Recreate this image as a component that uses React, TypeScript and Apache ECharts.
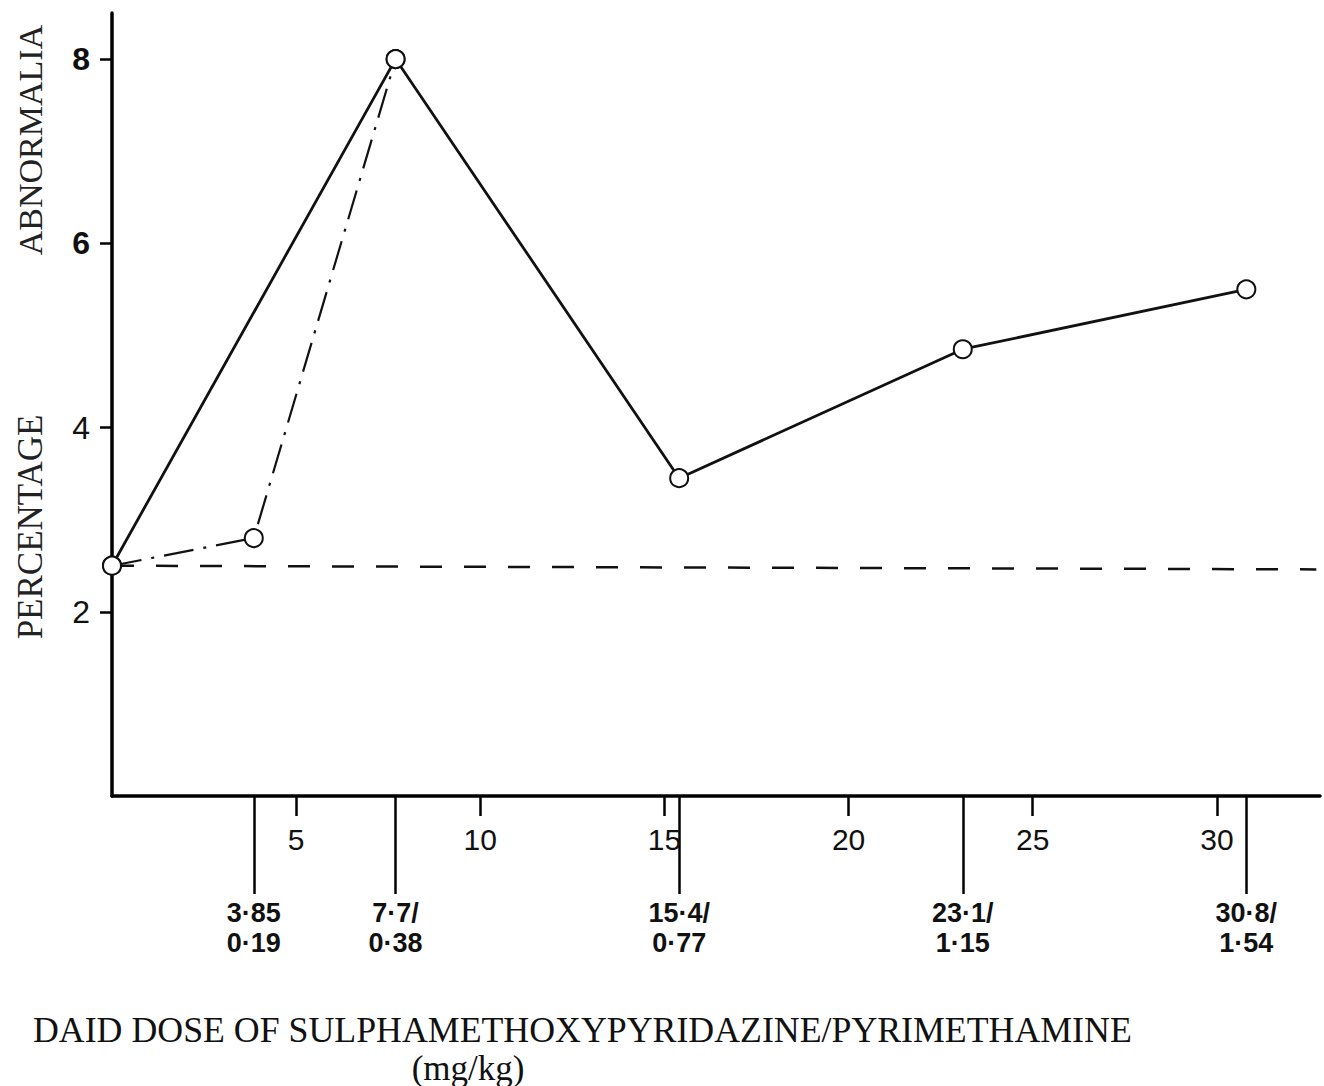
import React, { useEffect, useRef } from "react";
import * as echarts from "echarts";

// ---- data ----
const xTickValues = [5, 10, 15, 20, 25, 30];
const yTickValues = [2, 4, 6, 8];
const doseValues = [3.85, 7.7, 15.4, 23.1, 30.8];
const doseLabelsTop = ["3·85", "7·7/", "15·4/", "23·1/", "30·8/"];
const doseLabelsBottom = ["0·19", "0·38", "0·77", "1·15", "1·54"];

const solidX = [0, 7.7, 15.4, 23.1, 30.8];
const solidY = [2.5, 8.0, 3.45, 4.85, 5.5];

const dashDotX = [0, 3.85, 7.7];
const dashDotY = [2.5, 2.8, 8.0];

const controlX = [0, 32.7];
const controlY = [2.5, 2.46];

const yTitleLow = "PERCENTAGE";
const yTitleHigh = "ABNORMALIA";
const xTitle = "DAID DOSE OF SULPHAMETHOXYPYRIDAZINE/PYRIMETHAMINE";
const xUnit = "(mg/kg)";

const zip = (xs: number[], ys: number[]) => xs.map((x, i) => [x, ys[i]]);

export default function App() {
  const ref = useRef<HTMLDivElement>(null);
  useEffect(() => {
    document.body.style.margin = "0";
    if (!ref.current) return;
    const chart = echarts.init(ref.current, undefined, { renderer: "svg" });
    const X_MAX = 32.8;
    const Y_MAX = 8.5;
    const serif = "'Liberation Serif', 'Times New Roman', serif";
    const hand = "'Liberation Sans', 'DejaVu Sans', sans-serif";
    chart.setOption({
      animation: false,
      backgroundColor: "#ffffff",
      grid: { left: 112, right: 4, top: 13, bottom: 290 },
      xAxis: [
        {
          type: "value",
          min: 0,
          max: X_MAX,
          interval: 5,
          axisLine: { show: true, lineStyle: { color: "#000", width: 3.5 } },
          axisTick: {
            show: true,
            customValues: xTickValues,
            length: 20,
            lineStyle: { color: "#000", width: 2.5 },
          },
          axisLabel: {
            customValues: xTickValues,
            margin: 28,
            fontSize: 30,
            fontFamily: hand,
            color: "#111",
          },
          splitLine: { show: false },
        },
        {
          type: "value",
          min: 0,
          max: X_MAX,
          position: "bottom",
          offset: 0,
          axisLine: { show: false },
          axisTick: {
            show: true,
            customValues: doseValues,
            length: 98,
            lineStyle: { color: "#000", width: 2.5 },
          },
          axisLabel: {
            customValues: doseValues,
            margin: 102,
            fontSize: 27,
            lineHeight: 30,
            fontWeight: "bold",
            fontFamily: hand,
            color: "#111",
            formatter: (v: number) => {
              const i = doseValues.indexOf(v);
              return i >= 0 ? doseLabelsTop[i] + "\n" + doseLabelsBottom[i] : "";
            },
          },
          splitLine: { show: false },
        },
      ],
      yAxis: {
        type: "value",
        min: 0,
        max: Y_MAX,
        interval: 2,
        axisLine: { show: true, lineStyle: { color: "#000", width: 3.5 } },
        axisTick: {
          show: true,
          customValues: yTickValues,
          length: 12,
          lineStyle: { color: "#000", width: 2.5 },
        },
        axisLabel: {
          customValues: yTickValues,
          margin: 22,
          fontSize: 32,
          fontFamily: hand,
          color: "#111",
          formatter: (v: number) => (v >= 6 ? "{b|" + v + "}" : String(v)),
          rich: { b: { fontSize: 32, fontWeight: "bold", fontFamily: hand, color: "#111" } },
        },
        splitLine: { show: false },
      },
      series: [
        {
          type: "line",
          name: "control",
          data: zip(controlX, controlY),
          symbol: "none",
          clip: false,
          lineStyle: { color: "#111", width: 2.5, type: [22, 22] },
          z: 1,
        },
        {
          type: "line",
          name: "dashdot",
          data: zip(dashDotX, dashDotY),
          symbol: "emptyCircle",
          symbolSize: 18,
          showSymbol: true,
          clip: false,
          itemStyle: { color: "#111", borderWidth: 2.5 },
          lineStyle: { color: "#111", width: 2.2, type: [30, 10, 3, 10] },
          z: 2,
        },
        {
          type: "line",
          name: "solid",
          data: zip(solidX, solidY),
          symbol: "emptyCircle",
          symbolSize: 18,
          showSymbol: true,
          clip: false,
          itemStyle: { color: "#111", borderWidth: 2.5 },
          lineStyle: { color: "#111", width: 2.8, type: "solid" },
          z: 3,
        },
      ],
      graphic: [
        {
          type: "text",
          x: 30,
          y: 527,
          rotation: Math.PI / 2,
          style: {
            text: yTitleLow,
            font: "35px " + serif,
            fill: "#222",
            textAlign: "center",
            textVerticalAlign: "middle",
          },
        },
        {
          type: "text",
          x: 30,
          y: 140,
          rotation: Math.PI / 2,
          style: {
            text: yTitleHigh,
            font: "34px " + serif,
            fill: "#222",
            textAlign: "center",
            textVerticalAlign: "middle",
          },
        },
        {
          type: "text",
          x: 33,
          y: 1030,
          style: {
            text: xTitle,
            font: "35.8px " + serif,
            fill: "#111",
            textAlign: "left",
            textVerticalAlign: "middle",
          },
        },
        {
          type: "text",
          x: 468,
          y: 1068,
          style: {
            text: xUnit,
            font: "35px " + serif,
            fill: "#111",
            textAlign: "center",
            textVerticalAlign: "middle",
          },
        },
      ],
    });
    return () => chart.dispose();
  }, []);
  return <div ref={ref} style={{ width: 1324, height: 1086 }} />;
}
